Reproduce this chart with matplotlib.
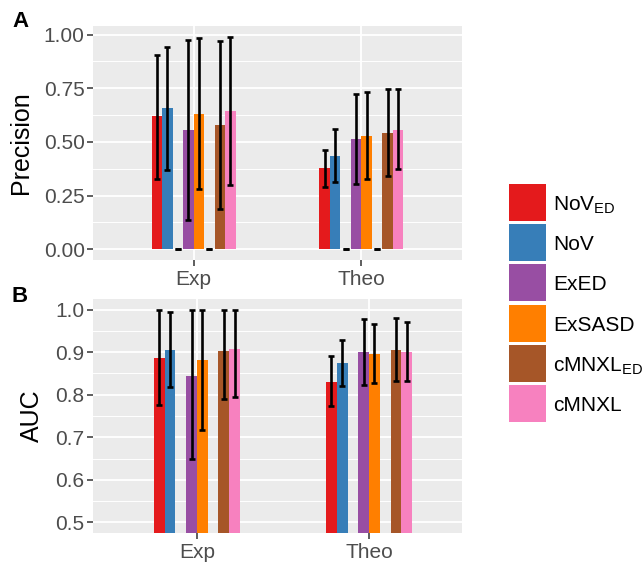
import numpy as np
import matplotlib
matplotlib.use("Agg")
import matplotlib.pyplot as plt
from matplotlib.patches import Rectangle

plt.rcParams['font.family'] = ['Liberation Sans', 'DejaVu Sans']
plt.rcParams['mathtext.fontset'] = 'custom'
plt.rcParams['mathtext.rm'] = 'Liberation Sans'

groups = ["Exp", "Theo"]
# 8 dodge slots per group; slots 2 and 5 are empty (value 0)
slots = ["NoV_ED", "NoV", "blank1", "ExED", "ExSASD", "blank2", "cMNXL_ED", "cMNXL"]
colors = ["#E41A1C", "#377EB8", "#000000", "#984EA3", "#FF7F00", "#000000", "#A65628", "#F781BF"]

prec_exp = [0.619, 0.656, 0.0, 0.554, 0.630, 0.0, 0.579, 0.644]
prec_exp_lo = [0.329, 0.370, 0.0, 0.136, 0.282, 0.0, 0.188, 0.301]
prec_exp_hi = [0.907, 0.943, 0.0, 0.975, 0.985, 0.0, 0.969, 0.991]
prec_theo = [0.378, 0.435, 0.0, 0.512, 0.529, 0.0, 0.540, 0.557]
prec_theo_lo = [0.290, 0.315, 0.0, 0.304, 0.327, 0.0, 0.340, 0.373]
prec_theo_hi = [0.463, 0.562, 0.0, 0.724, 0.733, 0.0, 0.745, 0.748]

auc_exp = [0.887, 0.906, 0.0, 0.844, 0.882, 0.0, 0.902, 0.908]
auc_exp_lo = [0.775, 0.817, 0.0, 0.650, 0.718, 0.0, 0.789, 0.795]
auc_exp_hi = [1.000, 0.995, 0.0, 1.000, 1.000, 0.0, 1.000, 0.999]
auc_theo = [0.831, 0.875, 0.0, 0.900, 0.896, 0.0, 0.906, 0.900]
auc_theo_lo = [0.774, 0.821, 0.0, 0.824, 0.827, 0.0, 0.832, 0.832]
auc_theo_hi = [0.890, 0.928, 0.0, 0.977, 0.967, 0.0, 0.980, 0.970]

legend_labels = [r"NoV$_{\mathrm{ED}}$", "NoV", "ExED", "ExSASD", r"cMNXL$_{\mathrm{ED}}$", "cMNXL"]
legend_colors = ["#E41A1C", "#377EB8", "#984EA3", "#FF7F00", "#A65628", "#F781BF"]

W, H = 642, 565
fig = plt.figure(figsize=(W / 100, H / 100), dpi=100)
axA = fig.add_axes([93 / W, 1 - 260 / H, 369 / W, 234 / H])
axB = fig.add_axes([93 / W, 1 - 533 / H, 369 / W, 234 / H])

slot_w = 0.5 / len(slots)
offsets = (np.arange(len(slots)) - (len(slots) - 1) / 2) * slot_w


def draw(ax, vals, los, his):
    ax.set_facecolor("#EBEBEB")
    for gi, (v, lo, hi) in enumerate(zip(vals, los, his)):
        x = gi + 1 + offsets
        v = np.array(v)
        lo = np.array(lo)
        hi = np.array(hi)
        for k in range(len(slots)):
            if slots[k].startswith("blank"):
                continue
            ax.bar(x[k], v[k], width=slot_w, color=colors[k], zorder=2)
        ax.errorbar(x, v, yerr=[v - lo, hi - v], fmt="none", ecolor="black",
                    elinewidth=1.9, capsize=2.0, capthick=1.9, zorder=3)
    ax.set_xticks([1, 2])
    ax.set_xticklabels(groups)
    ax.grid(which="major", color="white", linewidth=1.3, zorder=0)
    ax.grid(which="minor", axis="y", color="white", linewidth=0.7, zorder=0)
    ax.set_axisbelow(True)
    for s in ax.spines.values():
        s.set_visible(False)
    ax.tick_params(which="major", length=4, width=1.1, color="#333333",
                   labelsize=15, labelcolor="#4D4D4D", pad=2)
    ax.tick_params(axis="x", which="major", pad=3.5)
    ax.tick_params(which="minor", length=0)


draw(axA, [prec_exp, prec_theo], [prec_exp_lo, prec_theo_lo], [prec_exp_hi, prec_theo_hi])
axA.set_xlim(0.4, 2.6)
axA.set_ylim(-0.05, 1.04)
axA.set_yticks([0, 0.25, 0.5, 0.75, 1.0])
axA.set_yticklabels(["0.00", "0.25", "0.50", "0.75", "1.00"])
axA.set_yticks([0.125, 0.375, 0.625, 0.875], minor=True)
axA.set_ylabel("Precision", fontsize=18, labelpad=8)

draw(axB, [auc_exp, auc_theo], [auc_exp_lo, auc_theo_lo], [auc_exp_hi, auc_theo_hi])
axB.set_xlim(1 - 104 / 172, 2 + 93 / 172)
axB.set_ylim(0.475, 1.025)
axB.set_yticks([0.5, 0.6, 0.7, 0.8, 0.9, 1.0])
axB.set_yticklabels(["0.5", "0.6", "0.7", "0.8", "0.9", "1.0"])
axB.set_yticks([0.55, 0.65, 0.75, 0.85, 0.95], minor=True)
axB.set_ylabel("AUC", fontsize=18, labelpad=8)

fig.text(12 / W, 1 - 27 / H, "A", fontsize=16, fontweight="bold")
fig.text(12 / W, 1 - 302 / H, "B", fontsize=16, fontweight="bold")

# legend drawn by hand: 37px keys, 40px step
for i, (lab, c) in enumerate(zip(legend_labels, legend_colors)):
    top = 184 + i * 40.2
    fig.patches.append(Rectangle((509 / W, 1 - (top + 37) / H), 37 / W, 37 / H,
                                 facecolor=c, edgecolor="none",
                                 transform=fig.transFigure, figure=fig))
    fig.text(553 / W, 1 - (top + 18.5) / H, lab, fontsize=15, va="center_baseline",
             ha="left", color="black")

fig.savefig("out.png", dpi=100)
